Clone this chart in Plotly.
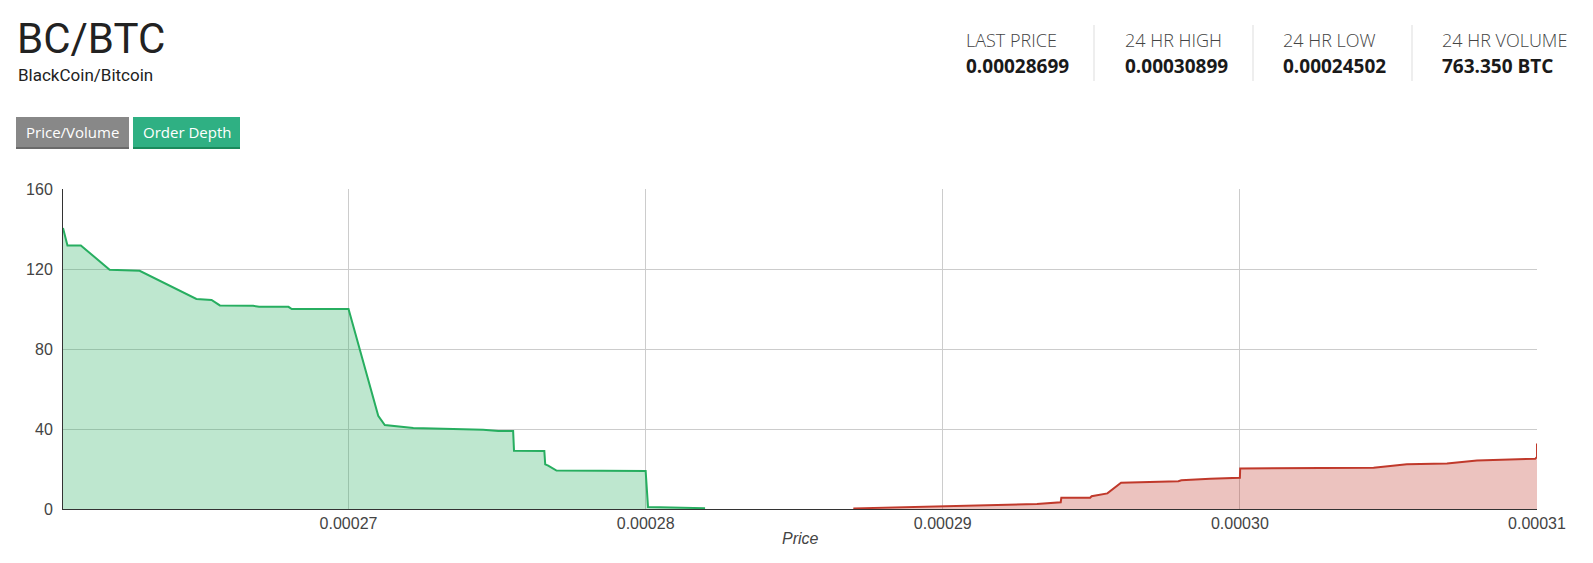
import plotly.graph_objects as go

# ---------------- data ----------------
bid_prices = [0.00026039, 0.00026054, 0.00026099, 0.00026196, 0.00026297, 0.00026488,
              0.00026539, 0.00026567, 0.00026679, 0.00026699, 0.00026798, 0.00026809,
              0.00027000, 0.00027100, 0.00027122, 0.00027218, 0.00027453, 0.00027504,
              0.00027554, 0.00027557, 0.00027659, 0.00027662, 0.00027672, 0.00027700,
              0.00028000, 0.00028008, 0.00028200]
bid_depth = [140.5, 131.8, 131.8, 119.6, 119.1, 105.0,
             104.5, 101.8, 101.6, 101.1, 101.1, 100.0,
             100.0, 46.6, 42.0, 40.5, 39.6, 39.0,
             39.0, 29.1, 29.0, 22.3, 21.7, 19.2,
             19.0, 1.0, 0.4]

ask_prices = [0.00028699, 0.00029000, 0.00029317, 0.00029397, 0.00029399, 0.00029496,
              0.00029501, 0.00029554, 0.00029600, 0.00029793, 0.00029803, 0.00029900,
              0.00030000, 0.00030001, 0.00030450, 0.00030562, 0.00030697, 0.00030798,
              0.00030994, 0.00031000, 0.00031000]
ask_depth = [0.3, 1.5, 2.5, 3.4, 5.6, 5.6,
             6.4, 7.8, 13.1, 13.9, 14.4, 15.1,
             15.6, 20.3, 20.6, 22.4, 22.8, 24.3,
             25.1, 26.1, 32.8]

x_tick_vals = [0.00027, 0.00028, 0.00029, 0.00030, 0.00031]
x_tick_text = ["0.00027", "0.00028", "0.00029", "0.00030", "0.00031"]
y_tick_vals = [0, 40, 80, 120, 160]

pair_title = "BC/BTC"
pair_name = "BlackCoin/Bitcoin"
stat_labels = ["LAST PRICE", "24 HR HIGH", "24 HR LOW", "24 HR VOLUME"]
stat_values = ["0.00028699", "0.00030899", "0.00024502", "763.350 BTC"]
button_labels = ["Price/Volume", "Order Depth"]

# ---------------- layout geometry (pixels) ----------------
FW, FH = 1593, 563
L, R, T, B = 63, 1537, 189, 509
W, H = R - L, B - T


def px(x):
    return (x - L) / W


def py(y):
    return (B - y) / H


fig = go.Figure()
fig.add_trace(go.Scatter(
    x=bid_prices, y=bid_depth, mode="lines",
    line=dict(color="#27ae60", width=2),
    fill="tozeroy", fillcolor="rgba(39,174,96,0.3)",
    hoverinfo="skip", showlegend=False))
fig.add_trace(go.Scatter(
    x=ask_prices, y=ask_depth, mode="lines",
    line=dict(color="#c0392b", width=2),
    fill="tozeroy", fillcolor="rgba(192,57,43,0.3)",
    hoverinfo="skip", showlegend=False))

shapes = []
annotations = []

# header
annotations.append(dict(x=px(15), y=py(38), xref="paper", yref="paper", text=pair_title,
                        showarrow=False, xanchor="left", yanchor="middle",
                        font=dict(family="Roboto", size=42, color="#222222")))
annotations.append(dict(x=px(15.5), y=py(75), xref="paper", yref="paper", text=pair_name,
                        showarrow=False, xanchor="left", yanchor="middle",
                        font=dict(family="Roboto", size=17, color="#222222")))

# stats
stat_x = [966, 1125, 1283, 1442]
for i, (lab, val) in enumerate(zip(stat_labels, stat_values)):
    annotations.append(dict(x=px(stat_x[i] - 2), y=py(40), xref="paper", yref="paper", text=lab,
                            showarrow=False, xanchor="left", yanchor="middle",
                            font=dict(family="Open Sans", size=18, color="#444444", weight=300)))
    annotations.append(dict(x=px(stat_x[i] - 2), y=py(66), xref="paper", yref="paper", text=val,
                            showarrow=False, xanchor="left", yanchor="middle",
                            font=dict(family="Open Sans", size=19, color="#1a1a1a", weight=700)))
for dx in [1094, 1253, 1412]:
    shapes.append(dict(type="line", xref="paper", yref="paper",
                       x0=px(dx), x1=px(dx), y0=py(25), y1=py(81),
                       line=dict(color="#dddddd", width=1)))

# buttons
btns = [(16, 129, "#888888", "#6a6a6a"), (133, 240, "#2fb083", "#1a8a5c")]
for (x0, x1, c, cb), lab in zip(btns, button_labels):
    shapes.append(dict(type="rect", xref="paper", yref="paper",
                       x0=px(x0), x1=px(x1), y0=py(147), y1=py(117),
                       fillcolor=c, line=dict(width=0)))
    shapes.append(dict(type="rect", xref="paper", yref="paper",
                       x0=px(x0), x1=px(x1), y0=py(149), y1=py(147),
                       fillcolor=cb, line=dict(width=0)))
    annotations.append(dict(x=px((x0 + x1) / 2), y=py(132), xref="paper", yref="paper", text=lab,
                            showarrow=False, xanchor="center", yanchor="middle",
                            font=dict(family="Open Sans", size=15, color="#ffffff")))

# axis title
annotations.append(dict(x=0.5, y=py(538), xref="paper", yref="paper", text="<i>Price</i>",
                        showarrow=False, xanchor="center", yanchor="middle",
                        font=dict(family="Arial", size=16, color="#444444")))

fig.update_layout(
    width=FW, height=FH, autosize=False,
    margin=dict(l=L, r=FW - R, t=T, b=FH - B, pad=0),
    paper_bgcolor="white", plot_bgcolor="white",
    shapes=shapes, annotations=annotations,
    font=dict(family="Arial", size=16, color="#444444"),
)
fig.update_xaxes(range=[bid_prices[0], 0.00031], tickvals=x_tick_vals, ticktext=x_tick_text,
                 showgrid=True, gridcolor="#cccccc", gridwidth=1, zeroline=False,
                 showline=True, linecolor="#333333", linewidth=1, ticks="",
                 tickfont=dict(family="Arial", size=16, color="#444444"))
fig.update_yaxes(range=[0, 160], tickvals=y_tick_vals,
                 showgrid=True, gridcolor="#cccccc", gridwidth=1, zeroline=False,
                 showline=True, linecolor="#333333", linewidth=1, ticks="",
                 ticklabelstandoff=6,
                 tickfont=dict(family="Arial", size=16, color="#444444"))

fig.write_html("out.html", config={"displayModeBar": False},
               post_script="document.body.style.margin='0';document.body.style.overflow='hidden';")
